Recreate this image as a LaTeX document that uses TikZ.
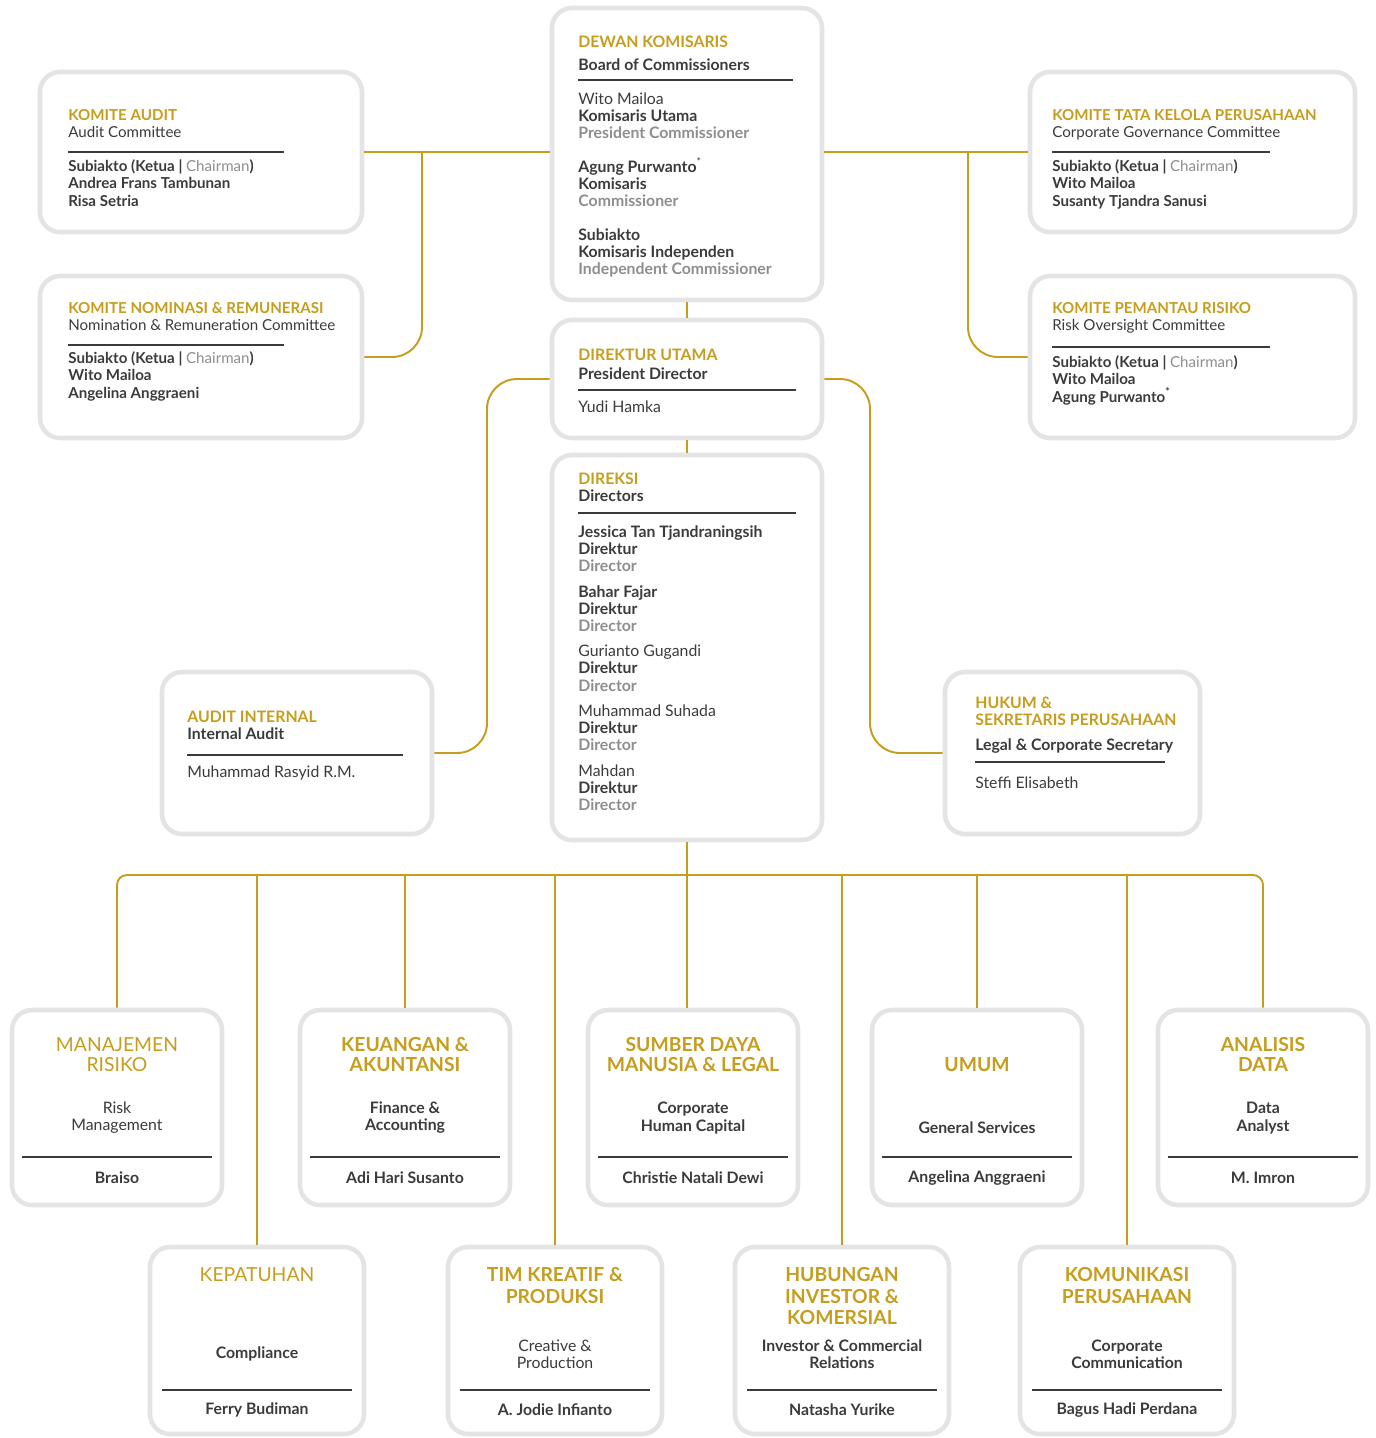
\documentclass[tikz,border=0pt]{standalone}
\usepackage{fontspec}
\setmainfont{Lato}
\usetikzlibrary{fit}
\definecolor{gold}{HTML}{C79D1E}
\definecolor{ink}{HTML}{3A3C3C}
\definecolor{soft}{HTML}{8E8E8E}
\definecolor{frame}{HTML}{E4E4E6}
\newcommand{\goldhd}[1]{\textcolor{gold}{\bfseries #1}}
\tikzset{
  orgbox/.style={draw=frame, line width=2.6pt, fill=white, rounded corners=0.4cm, inner sep=0pt},
  link/.style={draw=gold, line width=1.1pt, rounded corners=0.6cm},
  sepline/.style={draw=ink, line width=1.5pt},
  komtxt/.style={anchor=north west, inner sep=0pt, align=left, text=ink, font=\fontsize{8.6}{10}\selectfont},
  komname/.style={komtxt, font=\fontsize{8.6}{10}\selectfont\bfseries},
  midtxt/.style={anchor=north west, inner sep=0pt, align=left, text=ink, font=\fontsize{9}{9.7}\selectfont},
  unitname/.style={inner sep=0pt, text=ink, font=\fontsize{9}{10}\selectfont\bfseries}
}
\begin{document}
\begin{tikzpicture}[x=0.02cm, y=-0.02cm]
\useasboundingbox (0,0) rectangle (1376,1438);

% boards and committees
\node[orgbox, fit={(40,72) (362,232)}] (kaud) {};
\node[orgbox, fit={(40,276) (362,438)}] (knom) {};
\node[orgbox, fit={(552,8) (822,300)}] (dk) {};
\node[orgbox, fit={(552,320) (822,438)}] (du) {};
\node[orgbox, fit={(552,455) (822,840)}] (dr) {};
\node[orgbox, fit={(1030,72) (1355,232)}] (ktk) {};
\node[orgbox, fit={(1030,276) (1355,438)}] (kpr) {};
\node[orgbox, fit={(162,672) (432,834)}] (ai) {};
\node[orgbox, fit={(945,672) (1200,834)}] (hk) {};

\node[komtxt] (kaud-h) at (68,109) {\goldhd{KOMITE AUDIT}\\Audit Committee};
\draw[sepline] (68,152) -- (284,152);
\node[komname] (kaud-n) at (68,159) {Subiakto (Ketua | \textcolor{soft}{\mdseries Chairman})\\Andrea Frans Tambunan\\Risa Setria};

\node[komtxt] (knom-h) at (68,302) {\goldhd{KOMITE NOMINASI \& REMUNERASI}\\Nomination \& Remuneration Committee};
\draw[sepline] (68,345) -- (284,345);
\node[komname] (knom-n) at (68,351) {Subiakto (Ketua | \textcolor{soft}{\mdseries Chairman})\\Wito Mailoa\\Angelina Anggraeni};

\node[komtxt] (ktk-h) at (1052,109) {\goldhd{KOMITE TATA KELOLA PERUSAHAAN}\\Corporate Governance Committee};
\draw[sepline] (1052,152) -- (1270,152);
\node[komname] (ktk-n) at (1052,159) {Subiakto (Ketua | \textcolor{soft}{\mdseries Chairman})\\Wito Mailoa\\Susanty Tjandra Sanusi};

\node[komtxt] (kpr-h) at (1052,302) {\goldhd{KOMITE PEMANTAU RISIKO}\\Risk Oversight Committee};
\draw[sepline] (1052,347) -- (1270,347);
\node[komname] (kpr-n) at (1052,355) {Subiakto (Ketua | \textcolor{soft}{\mdseries Chairman})\\Wito Mailoa\\Agung Purwanto\textsuperscript{*}};

\node[midtxt] (dk-h) at (578,36) {\goldhd{DEWAN KOMISARIS}\\[3pt]\textbf{Board of Commissioners}};
\draw[sepline] (578,80) -- (793,80);
\node[midtxt] (dk-n) at (578,92) {Wito Mailoa\\\textbf{Komisaris Utama}\\\textcolor{soft}{\bfseries President Commissioner}\\[9.7pt]\textbf{Agung Purwanto}\textsuperscript{*}\\\textbf{Komisaris}\\\textcolor{soft}{\bfseries Commissioner}\\[9.7pt]\textbf{Subiakto}\\\textbf{Komisaris Independen}\\\textcolor{soft}{\bfseries Independent Commissioner}};

\node[midtxt] (du-h) at (578,349) {\goldhd{DIREKTUR UTAMA}\\[1pt]\textbf{President Director}};
\draw[sepline] (578,390) -- (796,390);
\node[midtxt] (du-n) at (578,400) {Yudi Hamka};

\node[midtxt] (dr-h) at (578,473) {\goldhd{DIREKSI}\\\textbf{Directors}};
\draw[sepline] (578,513) -- (796,513);
\node[midtxt] (dr-n) at (578,525) {\textbf{Jessica Tan Tjandraningsih}\\\textbf{Direktur}\\\textcolor{soft}{\bfseries Director}\\[5pt]\textbf{Bahar Fajar}\\\textbf{Direktur}\\\textcolor{soft}{\bfseries Director}\\[5pt]Gurianto Gugandi\\\textbf{Direktur}\\\textcolor{soft}{\bfseries Director}\\[5pt]Muhammad Suhada\\\textbf{Direktur}\\\textcolor{soft}{\bfseries Director}\\[5pt]Mahdan\\\textbf{Direktur}\\\textcolor{soft}{\bfseries Director}};

\node[midtxt] (ai-h) at (187,711) {\goldhd{AUDIT INTERNAL}\\\textbf{Internal Audit}};
\draw[sepline] (187,755) -- (403,755);
\node[midtxt] (ai-n) at (187,765) {Muhammad Rasyid R.M.};

\node[midtxt] (hk-h) at (975,697) {\goldhd{HUKUM \&}\\\goldhd{SEKRETARIS PERUSAHAAN}\\[4.5pt]\textbf{Legal \& Corporate Secretary}};
\draw[sepline] (975,762) -- (1165,762);
\node[midtxt] (hk-n) at (975,776) {Steffi Elisabeth};

% units, upper row
\foreach \nm/\xa/\hd/\en/\who/\tw/\ew in {
  mrisk/12/{MANAJEMEN\\RISIKO}/{Risk\\Management}/Braiso/\mdseries/\mdseries,
  keu/300/{KEUANGAN \&\\AKUNTANSI}/{Finance \&\\Accounting}/Adi Hari Susanto/\bfseries/\bfseries,
  sdm/588/{SUMBER DAYA\\MANUSIA \& LEGAL}/{Corporate\\Human Capital}/Christie Natali Dewi/\bfseries/\bfseries,
  umum/872/UMUM/General Services/Angelina Anggraeni/\bfseries/\bfseries,
  adata/1158/{ANALISIS\\DATA}/{Data\\Analyst}/M. Imron/\bfseries/\bfseries} {
  \node[orgbox, fit={(\xa,1010) (\xa+210,1205)}] (\nm) {};
  \node[anchor=south, inner sep=0pt, align=center, text=gold, font=\fontsize{11}{11.5}\selectfont\tw] (\nm-h) at (\xa+105,1072) {\hd};
  \node[anchor=south, inner sep=0pt, align=center, text=ink, font=\fontsize{9}{9.8}\selectfont\ew] (\nm-e) at (\xa+105,1134) {\en};
  \draw[sepline] (\xa+10,1157) -- (\xa+200,1157);
  \node[unitname] (\nm-n) at (\xa+105,1178) {\who};
}

% units, lower row
\foreach \nm/\xa/\hd/\en/\who/\tw/\ew in {
  patuh/150/KEPATUHAN/Compliance/Ferry Budiman/\mdseries/\bfseries,
  kreatif/448/{TIM KREATIF \&\\PRODUKSI}/{Creative \&\\Production}/A. Jodie Infianto/\bfseries/\mdseries,
  hib/735/{HUBUNGAN\\INVESTOR \&\\KOMERSIAL}/{Investor \& Commercial\\Relations}/Natasha Yurike/\bfseries/\bfseries,
  kom/1020/{KOMUNIKASI\\PERUSAHAAN}/{Corporate\\Communication}/Bagus Hadi Perdana/\bfseries/\bfseries} {
  \node[orgbox, fit={(\xa,1247) (\xa+214,1434)}] (\nm) {};
  \node[anchor=north, inner sep=0pt, align=center, text=gold, font=\fontsize{11}{12.3}\selectfont\tw] (\nm-h) at (\xa+107,1267) {\hd};
  \node[inner sep=0pt, align=center, text=ink, font=\fontsize{9}{9.8}\selectfont\ew] (\nm-e) at (\xa+107,1354) {\en};
  \draw[sepline] (\xa+12,1390) -- (\xa+202,1390);
  \node[unitname] (\nm-n) at (\xa+107,1410) {\who};
}

% connectors
\coordinate (jl) at (422,152);
\coordinate (jr) at (968,152);
\coordinate (al) at (487,0);
\coordinate (ar) at (870,0);
\coordinate (bus) at (687,875);
\draw[link] (kaud.east) -- (kaud.east -| dk.west);
\draw[link] (knom.east) -| (jl);
\draw[link] (ktk.west) -- (ktk.west -| dk.east);
\draw[link] (kpr.west) -| (jr);
\draw[link] (dk.south) -- (du.north);
\draw[link] (du.south) -- (dr.north);
\draw[link] (du.west) -| (al |- ai.east) -- (ai.east);
\draw[link] (du.east) -| (ar |- hk.west) -- (hk.west);
\draw[link] (dr.south) -- (bus |- sdm.north);
\draw[link, rounded corners=0.2cm] (mrisk.north) |- (bus) -| (adata.north);
\foreach \u in {keu,umum,patuh,kreatif,hib,kom}
  \draw[link] (\u.north) -- (\u.north |- bus);
\end{tikzpicture}
\end{document}
